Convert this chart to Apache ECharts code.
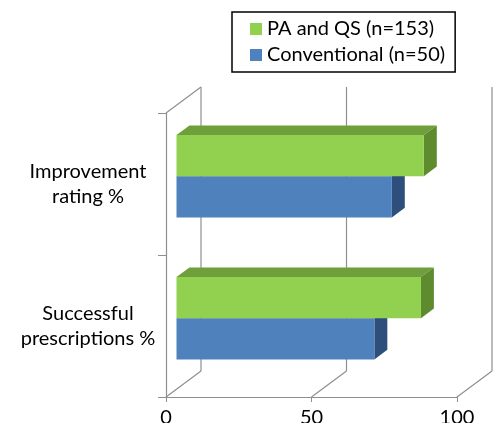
<!DOCTYPE html>
<html>
<head>
<meta charset="utf-8">
<script src="https://cdn.jsdelivr.net/npm/echarts@6/dist/echarts.min.js"></script>
<style>
  html, body { margin: 0; padding: 0; background: #fff; }
  #chart { width: 493px; height: 423px; }
</style>
</head>
<body>
<div id="chart"></div>
<script>
const categories = ['Improvement\nrating %', 'Successful\nprescriptions %']
const seriesNames = ['PA and QS (n=153)', 'Conventional (n=50)']
const paqsValues = [85, 84]
const conventionalValues = [74, 68]
const xTicks = [0, 50, 100]

// depth of the 3D box, in pixels
const DX = 35, DY = -26
const FONT = 'Lato'
const GRAY = '#8f8f8f'

const chart = echarts.init(document.getElementById('chart'))

// back wall + floor lines, built from the x ticks
function renderWalls(params, api) {
  const cs = params.coordSys
  const v = api.value(0)
  const x = api.coord([v, 0])[0]
  const top = cs.y, bottom = cs.y + cs.height
  const line = { stroke: GRAY, lineWidth: 1.2 }
  const children = [
    { type: 'line', shape: { x1: x + DX, y1: top + DY, x2: x + DX, y2: bottom + DY }, style: line },
    { type: 'line', shape: { x1: x, y1: bottom, x2: x + DX, y2: bottom + DY }, style: line }
  ]
  if (v === 0) {
    children.push({ type: 'line', shape: { x1: x, y1: top, x2: x + DX, y2: top + DY }, style: line })
  }
  return { type: 'group', children }
}

function barRenderer(side, front, topColor, sideColor) {
  return function (params, api) {
    const val = api.value(0)
    const cat = api.value(1)
    const p0 = api.coord([0, cat])
    const p1 = api.coord([val, cat])
    const band = api.size([0, 1])[1]
    const h = band * 0.29
    const sx = DX * 0.3, sy = DY * 0.3
    const dx = DX * 0.37, dy = DY * 0.37
    const x0 = p0[0] + sx, x1 = p1[0] + sx
    const y0 = (side === 'upper' ? p0[1] - h : p0[1]) + sy
    const y1 = y0 + h
    return {
      type: 'group',
      children: [
        { type: 'polygon', shape: { points: [[x0, y0], [x1, y0], [x1 + dx, y0 + dy], [x0 + dx, y0 + dy]] },
          style: { fill: topColor } },
        { type: 'polygon', shape: { points: [[x1, y0], [x1, y1], [x1 + dx, y1 + dy], [x1 + dx, y0 + dy]] },
          style: { fill: sideColor } },
        { type: 'rect', shape: { x: x0, y: y0, width: x1 - x0, height: h },
          style: { fill: front } }
      ]
    }
  }
}

chart.setOption({
  animation: false,
  textStyle: { fontFamily: FONT },
  legend: {
    data: seriesNames,
    orient: 'vertical',
    left: 232, top: 12,
    padding: [7, 10, 7, 18],
    itemWidth: 12, itemHeight: 12, itemGap: 6,
    icon: 'rect',
    borderColor: '#000', borderWidth: 1.5,
    textStyle: { fontSize: 20, color: '#000', fontFamily: FONT }
  },
  grid: { left: 166, right: 36, top: 113, bottom: 26, outerBoundsMode: 'none', containLabel: false },
  xAxis: {
    type: 'value', min: 0, max: 100, interval: 50,
    axisLine: { show: true, lineStyle: { color: GRAY, width: 1.2 } },
    axisTick: { show: true, length: 5, lineStyle: { color: GRAY } },
    splitLine: { show: false },
    axisLabel: { color: '#000', fontSize: 20, margin: 11, fontFamily: FONT }
  },
  yAxis: {
    type: 'category', data: categories, inverse: true,
    axisLine: { show: true, lineStyle: { color: GRAY, width: 1.2 } },
    axisTick: { show: true, length: 8, lineStyle: { color: GRAY } },
    axisLabel: { color: '#000', fontSize: 20, lineHeight: 25, align: 'center', margin: 78, fontFamily: FONT }
  },
  series: [
    {
      name: seriesNames[0], type: 'custom', z: 4,
      itemStyle: { color: '#92d050' },
      encode: { x: 0, y: 1 },
      data: paqsValues.map((v, i) => [v, i]),
      renderItem: barRenderer('upper', '#92d050', '#6f9f3a', '#5f8b2f')
    },
    {
      name: seriesNames[1], type: 'custom', z: 3,
      itemStyle: { color: '#4f81bd' },
      encode: { x: 0, y: 1 },
      data: conventionalValues.map((v, i) => [v, i]),
      renderItem: barRenderer('lower', '#4f81bd', '#3b6597', '#2e4f7b')
    },
    {
      type: 'custom', z: 1, silent: true,
      encode: { x: 0, y: 1 },
      data: xTicks.map(v => [v, 0]),
      renderItem: renderWalls
    }
  ]
})
</script>
</body>
</html>
